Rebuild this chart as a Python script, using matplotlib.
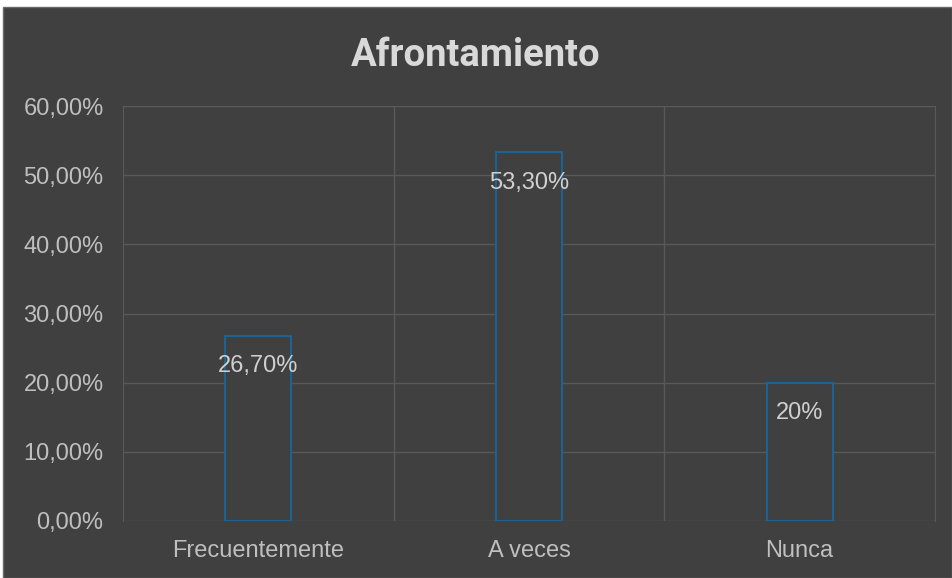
import matplotlib.pyplot as plt
import matplotlib.patches as mpatches
from matplotlib.ticker import FuncFormatter

categorias = ['Frecuentemente', 'A veces', 'Nunca']
valores = [26.7, 53.3, 20.0]
etiquetas = ['26,70%', '53,30%', '20%']

bg = '#404040'
grid = '#595959'
texto = '#bfbfbf'
texto_etq = '#d0d0d0'
borde = '#1c6391'

plt.rcParams['font.family'] = ['Liberation Sans', 'DejaVu Sans']

fig = plt.figure(figsize=(9.52, 5.78), dpi=100, facecolor='white')
# fondo del grafico con el margen blanco arriba/izquierda
fondo = mpatches.Rectangle((3/952, 0), 1 - 3/952, 1 - 7/578,
                           transform=fig.transFigure, facecolor=bg,
                           edgecolor='#6a6a6a', linewidth=1, zorder=-10)
fig.patches.append(fondo)

ax = fig.add_axes([123/952, 1 - 521/578, (935 - 123)/952, (521 - 106)/578])
ax.set_facecolor(bg)

x = range(len(categorias))
ax.bar(x, valores, width=0.245, facecolor=bg, edgecolor=borde, linewidth=1.5, zorder=3)

for i, (v, lab) in enumerate(zip(valores, etiquetas)):
    ax.text(i, v - 4.0, lab, ha='center', va='center_baseline', color=texto_etq,
            fontsize=17, zorder=4)

ax.set_xlim(-0.5, 2.5)
ax.set_ylim(0, 60)
ax.set_yticks(range(0, 61, 10))
ax.yaxis.set_major_formatter(FuncFormatter(lambda v, p: f'{v:.2f}%'.replace('.', ',')))
ax.set_xticks(list(x))
ax.set_xticklabels(categorias)

ax.set_xticks([0.5, 1.5], minor=True)
ax.grid(True, which='major', axis='y', color=grid, linewidth=1)
ax.grid(True, which='minor', axis='x', color=grid, linewidth=1)
ax.tick_params(which='both', length=0, colors=texto, labelsize=17)
ax.tick_params(axis='x', pad=14)
ax.tick_params(axis='y', pad=14)
for s in ax.spines.values():
    s.set_color(grid)
ax.spines['bottom'].set_visible(False)

fig.text(0.5, 1 - 55/578, 'Afrontamiento', ha='center', va='center',
         color='#d9d9d9', fontsize=27.5, fontweight='bold', family=['Roboto', 'DejaVu Sans'])

fig.savefig('out.png', dpi=100, facecolor=fig.get_facecolor())
